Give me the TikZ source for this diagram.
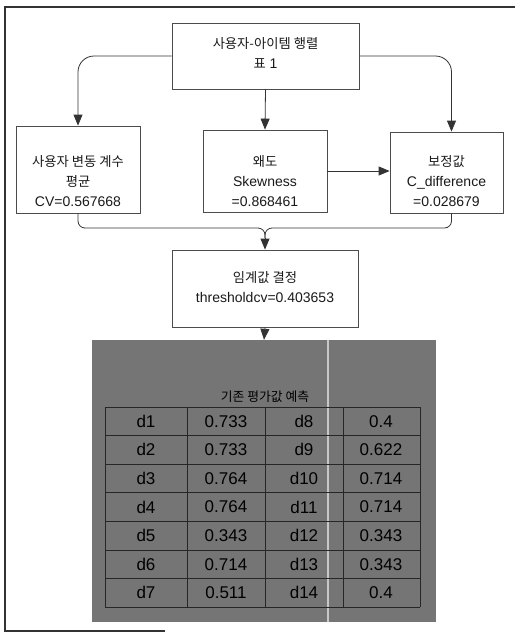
\documentclass[tikz,border=0pt]{standalone}
\usepackage{fontspec}
\setmainfont{Liberation Sans}
\newfontfamily\kr{Noto Sans CJK KR}[Scale=0.95]
\usetikzlibrary{arrows.meta}
\begin{document}
\begin{tikzpicture}[x=1pt,y=-1pt,
  box/.style={draw=black!70,line width=0.8pt,inner sep=0pt},
  txt/.style={align=center,font=\fontsize{14}{20}\selectfont,text=black!90,inner sep=0pt},
  arr/.style={draw=black!80,line width=0.8pt,-{Triangle[length=11pt,width=9pt]}},
  ln/.style={draw=black!80,line width=0.8pt},
  cell/.style={font=\fontsize{17}{17}\selectfont,inner sep=0pt,text=black},
  grid/.style={draw=black!85,line width=0.9pt},
]
\useasboundingbox (0,0) rectangle (520,633);
% frame
\draw[line width=1.6pt,black!80] (515,7) -- (5,7) -- (5,631) -- (165,631);
% boxes
\node[box,minimum width=187pt,minimum height=66pt] (top) at (265.5,56) {};
\node[txt] (topt) at (265.5,52.5) {{\kr 사용자-아이템 행렬}\\{\kr 표} 1};
\node[box,minimum width=124pt,minimum height=87pt] (cv) at (78,169.5) {};
\node[txt] (cvt) at (78,181.5) {{\kr 사용자 변동 계수}\\{\kr 평균}\\CV=0.567668};
\node[box,minimum width=124pt,minimum height=82pt] (sk) at (265,171) {};
\node[txt] (skt) at (265,181.5) {{\kr 왜도}\\Skewness\\=0.868461};
\node[box,minimum width=113pt,minimum height=81pt] (cd) at (446.5,172.5) {};
\node[txt] (cdt) at (446.5,181.5) {{\kr 보정값}\\C\_difference\\=0.028679};
\node[box,minimum width=186pt,minimum height=77pt] (thr) at (265,288.5) {};
\node[txt] (thrt) at (265,287.5) {{\kr 임계값 결정}\\thresholdcv=0.403653};
% connectors
\draw[arr,rounded corners=16pt] (top.west) -| (cv.north);
\draw[arr,rounded corners=16pt] (top.east) -| ([xshift=5pt]cd.north);
\draw[arr] (top.south) -- (sk.north);
\draw[arr] (sk.east) -- (sk.east -| cd.west);
\coordinate (mh) at (265,228);
\coordinate (mj) at (265,238);
\draw[ln,rounded corners=7pt] (cv.south) |- (mh) -- (mj);
\draw[ln,rounded corners=7pt] ([xshift=5pt]cd.south) |- (mh) -- (mj);
\draw[arr] (mj) -- (thr.north);
% table
\node[fill=black!54,minimum width=344pt,minimum height=282pt,inner sep=0pt] (tab) at (264,481) {};
\draw[arr] (thr.south) -- (tab.north);
\draw[black!22,line width=1.6pt] (328,340) -- (328,622);
\node[font=\fontsize{13.5}{13.5}\selectfont\kr,inner sep=0pt] (ttl) at (265,397) {기존 평가값 예측};
\foreach \i in {0,...,7} {\draw[grid] (105,{407+28.6*\i}) -- (420,{407+28.6*\i});}
\foreach \xx in {105,187,265,343,420} {\draw[grid] (\xx,407) -- (\xx,607.2);}
\foreach \r/\a/\b/\c/\d in {1/d1/0.733/d8/0.4, 2/d2/0.733/d9/0.622, 3/d3/0.764/d10/0.714, 4/d4/0.764/d11/0.714, 5/d5/0.343/d12/0.343, 6/d6/0.714/d13/0.343, 7/d7/0.511/d14/0.4} {
  \node[cell] (la\r) at (146,{392.7+28.6*\r}) {\a};
  \node[cell] (va\r) at (226,{392.7+28.6*\r}) {\b};
  \node[cell] (lb\r) at (304,{392.7+28.6*\r}) {\c};
  \node[cell] (vb\r) at (381,{392.7+28.6*\r}) {\d};
}
\end{tikzpicture}
\end{document}
